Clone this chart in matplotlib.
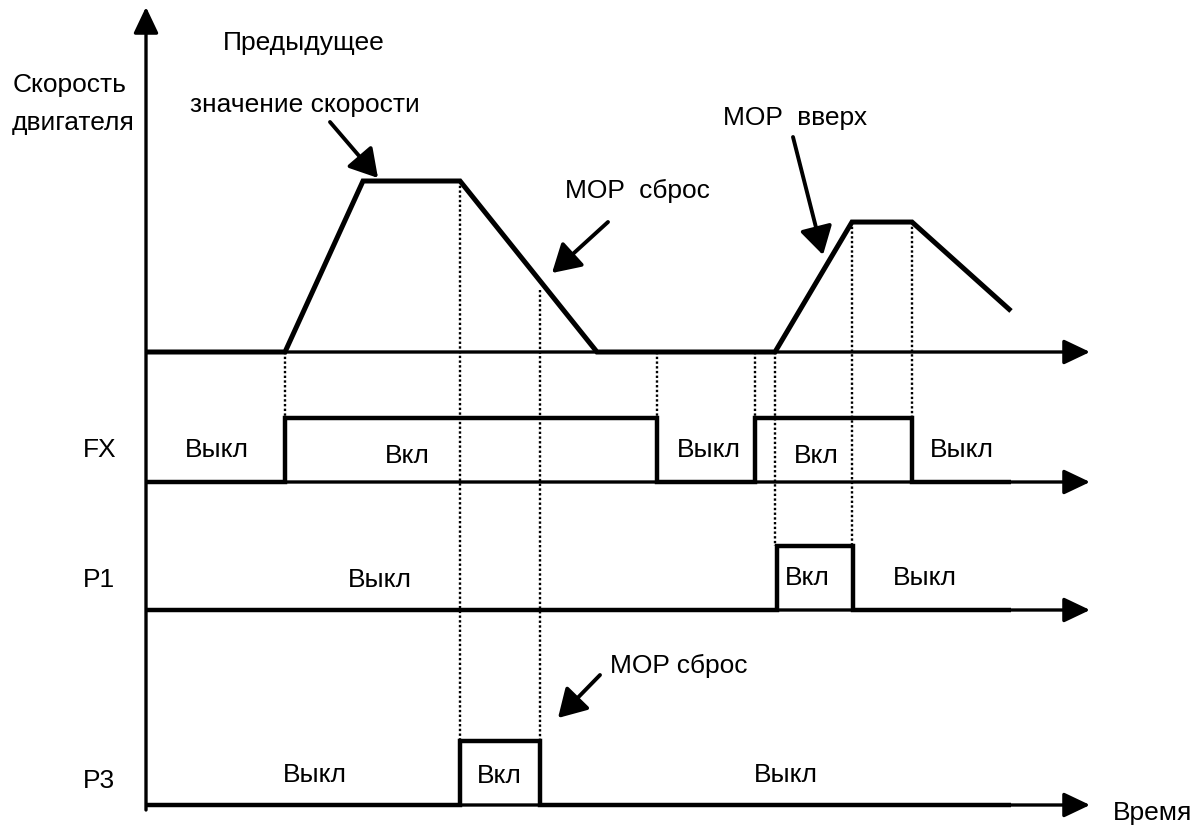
import matplotlib
matplotlib.use("Agg")
import matplotlib.pyplot as plt

plt.rcParams['font.family'] = ['Liberation Sans', 'DejaVu Sans']

# ---- data (time in diagram units, levels normalised) ----
t_start, t_end, t_arrow = 147, 1011, 1090
speed_t = [147, 285, 363, 460, 597, 775, 852, 912, 1011]
speed_v = [0, 0, 1.0, 1.0, 0, 0, 0.76, 0.76, 0.24]

fx_t = [147, 285, 657, 755, 912, 1011]
fx_s = [0, 1, 0, 1, 0]
p1_t = [147, 777, 853, 1011]
p1_s = [0, 1, 0]
p3_t = [147, 460, 540, 1011]
p3_s = [0, 1, 0]

row_names = ["speed", "FX", "P1", "P3"]
row_base = {"speed": 352, "FX": 482, "P1": 610, "P3": 805}
row_amp = {"speed": 171, "FX": 64, "P1": 64, "P3": 64}

# dotted guide lines: (time, from row/level, to row/level)
guides = [
    (285, ("speed", 0.0), ("FX", 1)),
    (460, ("speed", 1.0), ("P3", 1)),
    (540, ("speed", 0.36), ("P3", 1)),
    (657, ("speed", 0.0), ("FX", 1)),
    (755, ("speed", 0.0), ("FX", 1)),
    (775, ("speed", 0.0), ("P1", 1)),
    (852, ("speed", 0.76), ("P1", 1)),
    (912, ("speed", 0.76), ("FX", 1)),
]

row_labels = [("FX", 83, 457), ("P1", 83, 587), ("P3", 83, 788)]
state_labels = [
    ("Выкл", 185, 457), ("Вкл", 385, 463), ("Выкл", 677, 457), ("Вкл", 794, 463), ("Выкл", 930, 457),
    ("Выкл", 348, 587), ("Вкл", 785, 585), ("Выкл", 893, 585),
    ("Выкл", 283, 782), ("Вкл", 477, 783), ("Выкл", 754, 782),
]
notes = [
    ("Скорость", 13, 92), ("двигателя", 12, 130),
    ("Предыдущее", 223, 50), ("значение скорости", 190, 112),
    ("MOP  сброс", 565, 198), ("MOP  вверх", 723, 125),
    ("MOP сброс", 610, 673), ("Время", 1113, 820),
]
callouts = [((330, 122), (378, 178)), ((608, 222), (552, 273)),
            ((793, 137), (823, 255)), ((600, 675), (558, 718))]


def y_of(row, v):
    return row_base[row] - row_amp[row] * v


fig = plt.figure(figsize=(12, 8.27), dpi=100)
ax = fig.add_axes([0, 0, 1, 1])
ax.set_xlim(0, 1200)
ax.set_ylim(827, 0)
ax.axis("off")

axis_arrow = dict(arrowstyle="-|>,head_length=0.8,head_width=0.38", color="black",
                  lw=2.4, shrinkA=0, shrinkB=0, mutation_scale=20)
# vertical axis
ax.annotate("", xy=(t_start - 1, 7), xytext=(t_start - 1, 810), arrowprops=axis_arrow)
# horizontal axes
for r in row_names:
    ax.annotate("", xy=(t_arrow, row_base[r]), xytext=(t_start, row_base[r]), arrowprops=axis_arrow)

# speed profile
ax.plot(speed_t, [y_of("speed", v) for v in speed_v], color="black", lw=3.6,
        solid_joinstyle="miter", solid_capstyle="butt")


def step(row, ts, ss):
    xs, ys = [], []
    for i, s in enumerate(ss):
        xs += [ts[i], ts[i + 1]]
        ys += [y_of(row, s), y_of(row, s)]
    ax.plot(xs, ys, color="black", lw=3.2, solid_joinstyle="miter", solid_capstyle="butt")


step("FX", fx_t, fx_s)
step("P1", p1_t, p1_s)
step("P3", p3_t, p3_s)

for t, (ra, va), (rb, vb) in guides:
    ax.plot([t, t], [y_of(ra, va), y_of(rb, vb)], color="black", lw=1.7,
            linestyle=(0, (1.0, 1.0)))

fs = 19
for s, x, y in row_labels + state_labels + notes:
    ax.text(x, y, s, fontsize=fs, ha="left", va="baseline", color="black")

call_arrow = dict(arrowstyle="-|>,head_length=0.85,head_width=0.5", color="black",
                  lw=2.8, shrinkA=0, shrinkB=0, mutation_scale=20)
for tail, tip in callouts:
    ax.annotate("", xy=tip, xytext=tail, arrowprops=call_arrow)

fig.savefig("out.png", dpi=100)
